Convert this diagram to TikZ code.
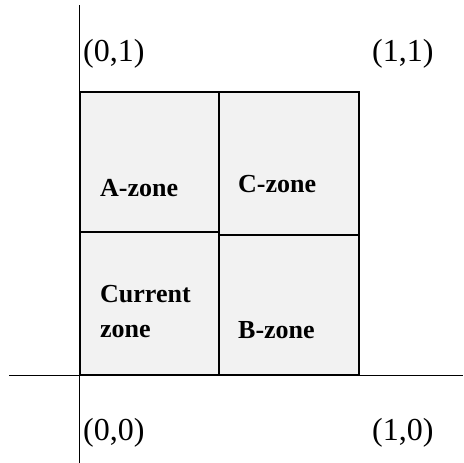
\documentclass[tikz,border=0pt]{standalone}
\usepackage{fontspec}
\setmainfont{Liberation Serif}
\usepackage{tikz}
\usetikzlibrary{positioning}
\tikzstyle{axis}=[line width=1pt,draw=black]
\tikzstyle{zone}=[draw=black,line width=1.6pt,fill=black!5,rectangle,inner sep=0pt,anchor=south west]
\tikzstyle{zonename}=[font=\fontsize{26}{35}\selectfont\bfseries,inner sep=0pt,anchor=base west,align=left]
\tikzstyle{corner}=[font=\fontsize{32}{36}\selectfont,inner sep=0pt,anchor=base west]

\begin{document}
\begin{tikzpicture}[x=1pt,y=1pt]
	\useasboundingbox (0,0) rectangle (463,463);
	% axes
	\coordinate (ytop) at (79,458);
	\coordinate (ybot) at (79,0);
	\coordinate (xleft) at (9,87);
	\coordinate (xright) at (463,87);
	\draw[axis] (ybot) -- (ytop);
	\draw[axis] (xleft) -- (xright);
	
	% the four zones
	\node [zone, minimum width=139pt, minimum height=143pt] (current) at (79,87) {};
	\node [zone, minimum width=139pt, minimum height=140pt] (azone) at (79,230) {};
	\node [zone, minimum width=140pt, minimum height=140pt] (bzone) at (218,87) {};
	\node [zone, minimum width=140pt, minimum height=143pt] (czone) at (218,227) {};
	
	\node [zonename] (currenttext) at (100,125) {Current\\zone};
	\node [zonename] (atext) at (100,266) {A-zone};
	\node [zonename] (btext) at (238,124) {B-zone};
	\node [zonename] (ctext) at (238,270) {C-zone};
	
	% corner coordinates
	\node [corner] (c01) at (83,401) {(0,1)};
	\node [corner] (c11) at (372,401) {(1,1)};
	\node [corner] (c00) at (83,22) {(0,0)};
	\node [corner] (c10) at (372,22) {(1,0)};
\end{tikzpicture}
\end{document}
